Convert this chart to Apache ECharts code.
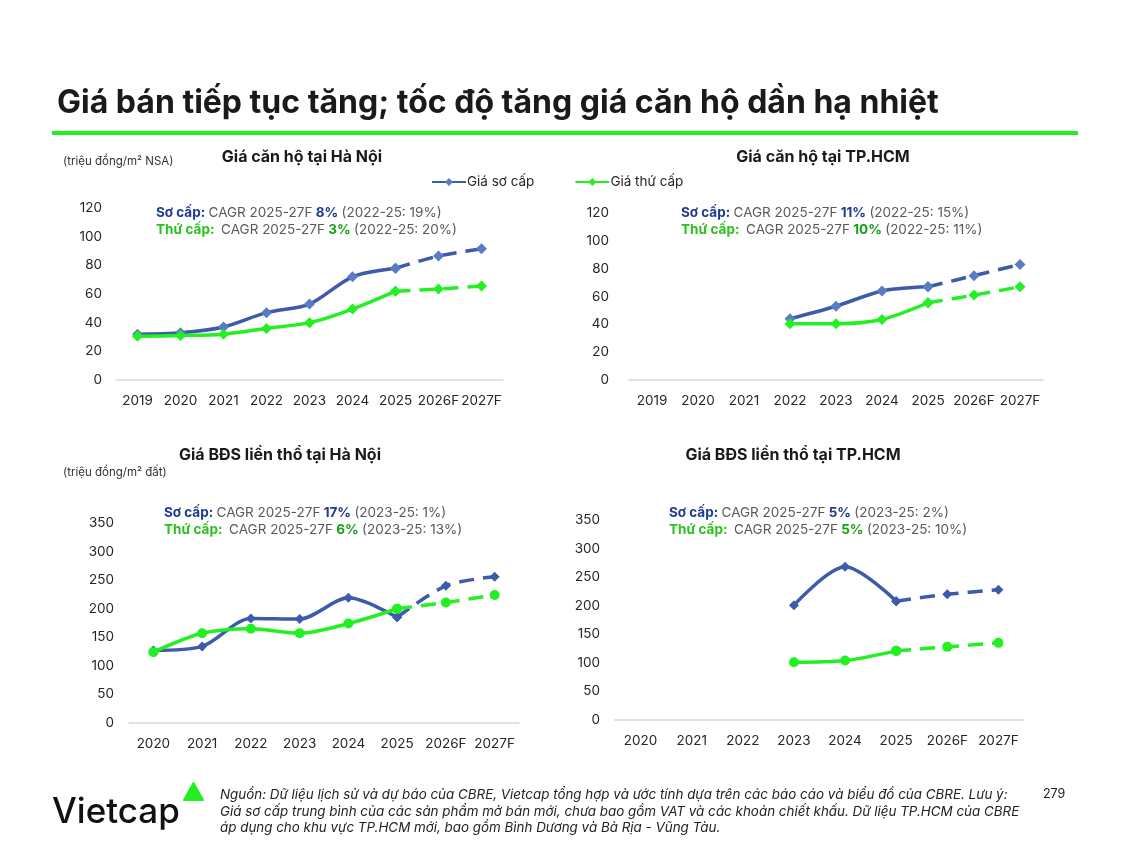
<!DOCTYPE html>
<html>
<head>
<meta charset="utf-8">
<script src="https://cdn.jsdelivr.net/npm/echarts@6/dist/echarts.min.js"></script>
<style>
html,body{margin:0;padding:0;background:#fff;}
#c{width:1132px;height:844px;}
</style>
</head>
<body>
<div id="c"></div>
<script>
// ---------- DATA ----------
const yearsApt = ['2019','2020','2021','2022','2023','2024','2025','2026F','2027F'];
const yearsLand = ['2020','2021','2022','2023','2024','2025','2026F','2027F'];

const hnAptPrimary   = [32, 33, 37, 47, 53, 72, 78, null, null];
const hnAptPrimaryF  = [null, null, null, null, null, null, 78, 86.5, 91.5];
const hnAptSecondary = [30.5, 31, 32, 36, 40, 49.5, 62, null, null];
const hnAptSecondaryF= [null, null, null, null, null, null, 62, 63.5, 65.5];

const hcmAptPrimary   = [null, null, null, 44, 53, 64, 67, null, null];
const hcmAptPrimaryF  = [null, null, null, null, null, null, 67, 75, 83];
const hcmAptSecondary = [null, null, null, 40.5, 40.5, 43.5, 55.5, null, null];
const hcmAptSecondaryF= [null, null, null, null, null, null, 55.5, 61, 67];

const hnLandPrimary   = [127, 134, 183, 182, 219, 185, null, null];
const hnLandPrimaryF  = [null, null, null, null, null, 185, 240, 256];
const hnLandSecondary = [124, 157, 165, 157, 174, 200, null, null];
const hnLandSecondaryF= [null, null, null, null, null, 200, 211, 224];

const hcmLandPrimary   = [null, null, null, 201, 268, 208, null, null];
const hcmLandPrimaryF  = [null, null, null, null, null, 208, 220, 228];
const hcmLandSecondary = [null, null, null, 101, 104, 121, null, null];
const hcmLandSecondaryF= [null, null, null, null, null, 121, 128, 135];

const aptTicks = [0, 20, 40, 60, 80, 100, 120];
const landTicks = [0, 50, 100, 150, 200, 250, 300, 350];

const nameP = 'Giá sơ cấp';
const nameS = 'Giá thứ cấp';

// ---------- STYLE ----------
const BLUE = '#3d5ba9';
const BLUE_FILL = '#5a7cc3';
const GREEN = '#22f022';
const FONT = 'Inter, "Noto Sans", sans-serif';
const TXT = '#262626';

const grids = [
  {left:116, right:1132-503, top:208, height:172},
  {left:629, right:1132-1043, top:213, height:167},
  {left:129, right:1132-519, top:523, height:200},
  {left:615, right:1132-1024, top:520, height:200}
];

function xAxis(i, cats){
  return {type:'category', gridIndex:i, data:cats, boundaryGap:true,
    axisLine:{lineStyle:{color:'#d9d9d9', width:1.5}}, axisTick:{show:false},
    axisLabel:{color:TXT, fontSize:13.5, fontFamily:FONT, margin:14, interval:0}};
}
function yAxis(i, ticks, margin){
  return {type:'value', gridIndex:i, min:ticks[0], max:ticks[ticks.length-1], interval:ticks[1]-ticks[0],
    axisLine:{show:false}, axisTick:{show:false}, splitLine:{show:false},
    axisLabel:{color:TXT, fontSize:13.5, fontFamily:FONT, margin:margin}};
}
function ser(i, name, data, color, fill, symbol, size, dashed){
  return {type:'line', name:name, xAxisIndex:i, yAxisIndex:i, data:data, smooth:0.3,
    connectNulls:false, symbol:symbol, symbolSize:size, showSymbol:true,
    lineStyle:{color:color, width:3.5, type: dashed ? [15,9] : 'solid'},
    itemStyle:{color:fill, borderColor:fill, borderWidth:0},
    emphasis:{disabled:true}, z: dashed ? 2 : 3};
}

function annot(x, y, p, pv, s, sv){
  return [
    {type:'text', x:x, y:y, style:{text:'{a|Sơ cấp:} {g|CAGR 2025-27F} {b|'+p+'} {g|'+pv+'}',
      rich:{a:{fontWeight:'bold', fill:'#1f3a93', fontSize:13.5, fontFamily:FONT},
            b:{fontWeight:'bold', fill:'#1f3a93', fontSize:13.5, fontFamily:FONT},
            g:{fill:'#595959', fontSize:13.5, fontFamily:FONT}}, verticalAlign:'middle'}},
    {type:'text', x:x, y:y+17, style:{text:'{a|Thứ cấp:}  {g|CAGR 2025-27F} {b|'+s+'} {g|'+sv+'}',
      rich:{a:{fontWeight:'bold', fill:'#2cc21e', fontSize:13.5, fontFamily:FONT},
            b:{fontWeight:'bold', fill:'#19a019', fontSize:13.5, fontFamily:FONT},
            g:{fill:'#595959', fontSize:13.5, fontFamily:FONT}}, verticalAlign:'middle'}}
  ];
}

const graphics = [
  {type:'text', x:57, y:103, style:{text:'Giá bán tiếp tục tăng; tốc độ tăng giá căn hộ dần hạ nhiệt',
    font:'bold 32px '+FONT, fill:'#1a1a1a', verticalAlign:'middle'}},
  {type:'rect', shape:{x:52, y:131, width:1026, height:4}, style:{fill:'#22ee22'}},
  {type:'text', x:63, y:162, style:{text:'(triệu đồng/m² NSA)', font:'11.5px '+FONT, fill:'#333', verticalAlign:'middle'}},
  {type:'text', x:63, y:473, style:{text:'(triệu đồng/m² đất)', font:'11.5px '+FONT, fill:'#333', verticalAlign:'middle'}},
  {type:'text', x:302, y:157, style:{text:'Giá căn hộ tại Hà Nội', font:'bold 16px '+FONT, fill:'#1a1a1a', align:'center', verticalAlign:'middle'}},
  {type:'text', x:823, y:157, style:{text:'Giá căn hộ tại TP.HCM', font:'bold 16px '+FONT, fill:'#1a1a1a', align:'center', verticalAlign:'middle'}},
  {type:'text', x:280, y:455, style:{text:'Giá BĐS liền thổ tại Hà Nội', font:'bold 16px '+FONT, fill:'#1a1a1a', align:'center', verticalAlign:'middle'}},
  {type:'text', x:793, y:455, style:{text:'Giá BĐS liền thổ tại TP.HCM', font:'bold 16px '+FONT, fill:'#1a1a1a', align:'center', verticalAlign:'middle'}},
  ...annot(156, 213, '8%', '(2022-25: 19%)', '3%', '(2022-25: 20%)'),
  ...annot(681, 213, '11%', '(2022-25: 15%)', '10%', '(2022-25: 11%)'),
  ...annot(164, 513, '17%', '(2023-25: 1%)', '6%', '(2023-25: 13%)'),
  ...annot(669, 513, '5%', '(2023-25: 2%)', '5%', '(2023-25: 10%)'),
  {type:'text', x:52, y:812, style:{text:'Vietcap', font:'500 35px '+FONT, fill:'#111', verticalAlign:'middle'}},
  {type:'polygon', shape:{points:[[184,800],[193.5,783],[203,800]]}, style:{fill:'#22ee22', stroke:'#22ee22', lineWidth:2, lineJoin:'round'}},
  {type:'text', x:220, y:795, style:{text:'Nguồn: Dữ liệu lịch sử và dự báo của CBRE, Vietcap tổng hợp và ước tính dựa trên các báo cáo và biểu đồ của CBRE. Lưu ý:',
    font:'italic 13.4px '+FONT, fill:'#222', verticalAlign:'middle'}},
  {type:'text', x:220, y:812, style:{text:'Giá sơ cấp trung bình của các sản phẩm mở bán mới, chưa bao gồm VAT và các khoản chiết khấu. Dữ liệu TP.HCM của CBRE',
    font:'italic 13.4px '+FONT, fill:'#222', verticalAlign:'middle'}},
  {type:'text', x:220, y:828, style:{text:'áp dụng cho khu vực TP.HCM mới, bao gồm Bình Dương và Bà Rịa - Vũng Tàu.',
    font:'italic 13.4px '+FONT, fill:'#222', verticalAlign:'middle'}},
  {type:'text', x:1043, y:794, style:{text:'279', font:'12.5px '+FONT, fill:'#222', verticalAlign:'middle'}}
];

const option = {
  backgroundColor:'#ffffff',
  animation:false,
  legend:{
    left:426, top:170, itemGap:40, itemWidth:34, itemHeight:10,
    textStyle:{color:TXT, fontSize:13.5, fontFamily:FONT, padding:[0,0,0,-4]},
    data:[{name:nameP}, {name:nameS}]
  },
  grid:grids,
  xAxis:[xAxis(0, yearsApt), xAxis(1, yearsApt), xAxis(2, yearsLand), xAxis(3, yearsLand)],
  yAxis:[yAxis(0, aptTicks, 14), yAxis(1, aptTicks, 20), yAxis(2, landTicks, 15), yAxis(3, landTicks, 15)],
  series:[
    ser(0, nameP, hnAptPrimary, BLUE, BLUE_FILL, 'diamond', 11, false),
    ser(0, nameP, hnAptPrimaryF, BLUE, BLUE_FILL, 'diamond', 11, true),
    ser(0, nameS, hnAptSecondary, GREEN, GREEN, 'diamond', 11, false),
    ser(0, nameS, hnAptSecondaryF, GREEN, GREEN, 'diamond', 11, true),
    ser(1, nameP, hcmAptPrimary, BLUE, BLUE_FILL, 'diamond', 11, false),
    ser(1, nameP, hcmAptPrimaryF, BLUE, BLUE_FILL, 'diamond', 11, true),
    ser(1, nameS, hcmAptSecondary, GREEN, GREEN, 'diamond', 11, false),
    ser(1, nameS, hcmAptSecondaryF, GREEN, GREEN, 'diamond', 11, true),
    ser(2, nameP, hnLandPrimary, BLUE, BLUE, 'diamond', 10, false),
    ser(2, nameP, hnLandPrimaryF, BLUE, BLUE, 'diamond', 10, true),
    ser(2, nameS, hnLandSecondary, GREEN, GREEN, 'circle', 10, false),
    ser(2, nameS, hnLandSecondaryF, GREEN, GREEN, 'circle', 10, true),
    ser(3, nameP, hcmLandPrimary, BLUE, BLUE, 'diamond', 10, false),
    ser(3, nameP, hcmLandPrimaryF, BLUE, BLUE, 'diamond', 10, true),
    ser(3, nameS, hcmLandSecondary, GREEN, GREEN, 'circle', 10, false),
    ser(3, nameS, hcmLandSecondaryF, GREEN, GREEN, 'circle', 10, true)
  ],
  graphic:graphics
};
const chart = echarts.init(document.getElementById('c'));
chart.setOption(option);
</script>
</body>
</html>
